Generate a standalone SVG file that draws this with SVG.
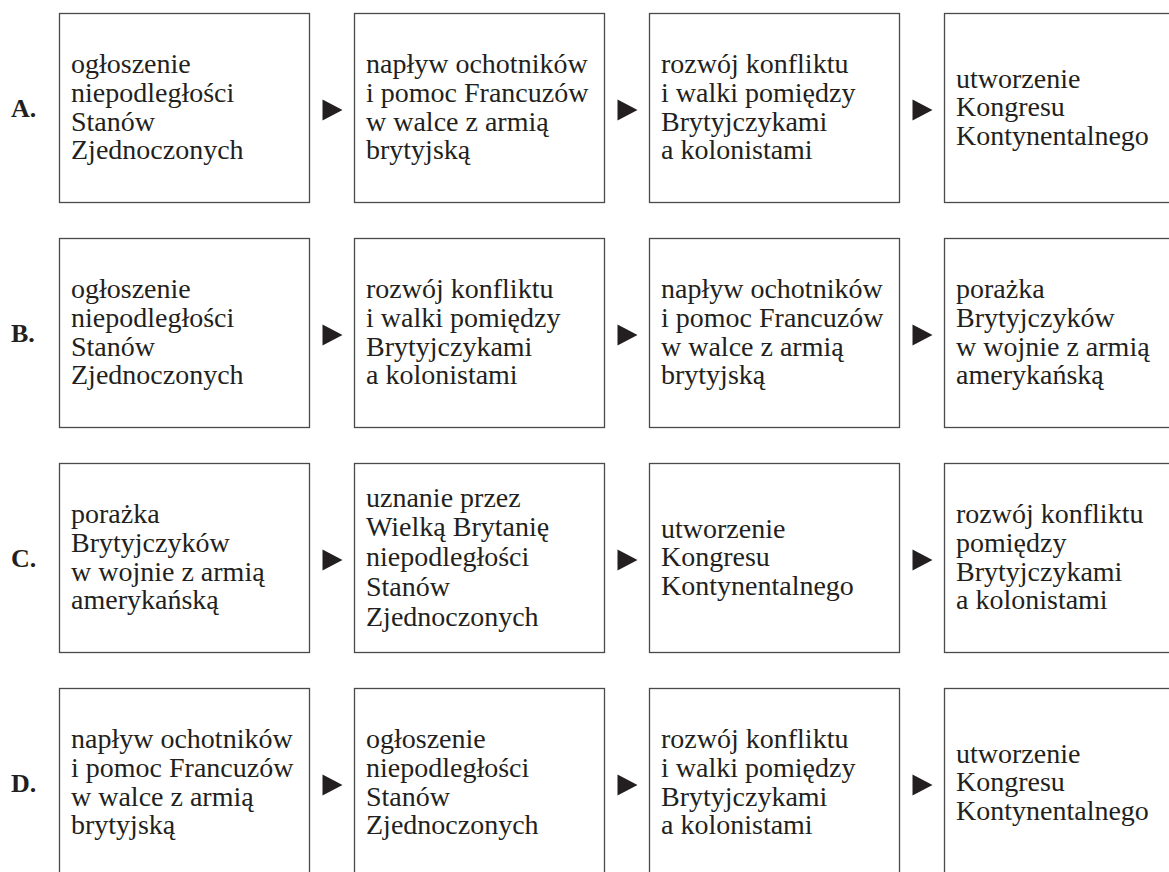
<svg xmlns="http://www.w3.org/2000/svg" xmlns:xlink="http://www.w3.org/1999/xlink" width="1169" height="872" viewBox="0 0 1169 872">
<style>
.box{fill:#fff;stroke:#4a4a4a;stroke-width:1.3}
.t{font-family:"Liberation Serif","Times New Roman",serif;font-size:28px;fill:#231f20}
.lab{font-family:"Liberation Serif","Times New Roman",serif;font-size:26px;font-weight:bold;fill:#231f20}
.arr{fill:#231f20}
</style>
<defs>
<path id="tri" d="M0,0 L20,10.5 L0,21 Z"/>
</defs>
<rect width="1169" height="872" fill="#fff"/>

<g id="labels">
<text class="lab" x="11" y="116.7">A.</text>
<text class="lab" x="11" y="341.7">B.</text>
<text class="lab" x="11" y="566.7">C.</text>
<text class="lab" x="11" y="791.7">D.</text>
</g>

<!-- Row A -->
<g id="A1"><rect class="box" x="59.5" y="13.5" width="250" height="189"/>
<text class="t" x="71" y="73.2"><tspan x="71">ogłoszenie</tspan><tspan x="71" dy="28.7">niepodległości</tspan><tspan x="71" dy="28.7">Stanów</tspan><tspan x="71" dy="28.7">Zjednoczonych</tspan></text></g>
<g id="A2"><rect class="box" x="354.5" y="13.5" width="250" height="189"/>
<text class="t" x="366" y="73.2"><tspan x="366">napływ ochotników</tspan><tspan x="366" dy="28.7">i pomoc Francuzów</tspan><tspan x="366" dy="28.7">w walce z armią</tspan><tspan x="366" dy="28.7">brytyjską</tspan></text></g>
<g id="A3"><rect class="box" x="649.5" y="13.5" width="250" height="189"/>
<text class="t" x="661" y="73.2"><tspan x="661">rozwój konfliktu</tspan><tspan x="661" dy="28.7">i walki pomiędzy</tspan><tspan x="661" dy="28.7">Brytyjczykami</tspan><tspan x="661" dy="28.7">a kolonistami</tspan></text></g>
<g id="A4"><rect class="box" x="944.5" y="13.5" width="250" height="189"/>
<text class="t" x="956" y="87.5"><tspan x="956">utworzenie</tspan><tspan x="956" dy="28.7">Kongresu</tspan><tspan x="956" dy="28.7">Kontynentalnego</tspan></text></g>

<!-- Row B -->
<g id="B1"><rect class="box" x="59.5" y="238.5" width="250" height="189"/>
<text class="t" x="71" y="298.2"><tspan x="71">ogłoszenie</tspan><tspan x="71" dy="28.7">niepodległości</tspan><tspan x="71" dy="28.7">Stanów</tspan><tspan x="71" dy="28.7">Zjednoczonych</tspan></text></g>
<g id="B2"><rect class="box" x="354.5" y="238.5" width="250" height="189"/>
<text class="t" x="366" y="298.2"><tspan x="366">rozwój konfliktu</tspan><tspan x="366" dy="28.7">i walki pomiędzy</tspan><tspan x="366" dy="28.7">Brytyjczykami</tspan><tspan x="366" dy="28.7">a kolonistami</tspan></text></g>
<g id="B3"><rect class="box" x="649.5" y="238.5" width="250" height="189"/>
<text class="t" x="661" y="298.2"><tspan x="661">napływ ochotników</tspan><tspan x="661" dy="28.7">i pomoc Francuzów</tspan><tspan x="661" dy="28.7">w walce z armią</tspan><tspan x="661" dy="28.7">brytyjską</tspan></text></g>
<g id="B4"><rect class="box" x="944.5" y="238.5" width="250" height="189"/>
<text class="t" x="956" y="298.2"><tspan x="956">porażka</tspan><tspan x="956" dy="28.7">Brytyjczyków</tspan><tspan x="956" dy="28.7">w wojnie z armią</tspan><tspan x="956" dy="28.7">amerykańską</tspan></text></g>

<!-- Row C -->
<g id="C1"><rect class="box" x="59.5" y="463.5" width="250" height="189"/>
<text class="t" x="71" y="523.2"><tspan x="71">porażka</tspan><tspan x="71" dy="28.7">Brytyjczyków</tspan><tspan x="71" dy="28.7">w wojnie z armią</tspan><tspan x="71" dy="28.7">amerykańską</tspan></text></g>
<g id="C2"><rect class="box" x="354.5" y="463.5" width="250" height="189"/>
<text class="t" x="366" y="506.6"><tspan x="366">uznanie przez</tspan><tspan x="366" dy="29.8">Wielką Brytanię</tspan><tspan x="366" dy="29.8">niepodległości</tspan><tspan x="366" dy="29.8">Stanów</tspan><tspan x="366" dy="29.8">Zjednoczonych</tspan></text></g>
<g id="C3"><rect class="box" x="649.5" y="463.5" width="250" height="189"/>
<text class="t" x="661" y="537.5"><tspan x="661">utworzenie</tspan><tspan x="661" dy="28.7">Kongresu</tspan><tspan x="661" dy="28.7">Kontynentalnego</tspan></text></g>
<g id="C4"><rect class="box" x="944.5" y="463.5" width="250" height="189"/>
<text class="t" x="956" y="523.2"><tspan x="956">rozwój konfliktu</tspan><tspan x="956" dy="28.7">pomiędzy</tspan><tspan x="956" dy="28.7">Brytyjczykami</tspan><tspan x="956" dy="28.7">a kolonistami</tspan></text></g>

<!-- Row D -->
<g id="D1"><rect class="box" x="59.5" y="688.5" width="250" height="189"/>
<text class="t" x="71" y="748.2"><tspan x="71">napływ ochotników</tspan><tspan x="71" dy="28.7">i pomoc Francuzów</tspan><tspan x="71" dy="28.7">w walce z armią</tspan><tspan x="71" dy="28.7">brytyjską</tspan></text></g>
<g id="D2"><rect class="box" x="354.5" y="688.5" width="250" height="189"/>
<text class="t" x="366" y="748.2"><tspan x="366">ogłoszenie</tspan><tspan x="366" dy="28.7">niepodległości</tspan><tspan x="366" dy="28.7">Stanów</tspan><tspan x="366" dy="28.7">Zjednoczonych</tspan></text></g>
<g id="D3"><rect class="box" x="649.5" y="688.5" width="250" height="189"/>
<text class="t" x="661" y="748.2"><tspan x="661">rozwój konfliktu</tspan><tspan x="661" dy="28.7">i walki pomiędzy</tspan><tspan x="661" dy="28.7">Brytyjczykami</tspan><tspan x="661" dy="28.7">a kolonistami</tspan></text></g>
<g id="D4"><rect class="box" x="944.5" y="688.5" width="250" height="189"/>
<text class="t" x="956" y="762.5"><tspan x="956">utworzenie</tspan><tspan x="956" dy="28.7">Kongresu</tspan><tspan x="956" dy="28.7">Kontynentalnego</tspan></text></g>

<g id="connectors" class="arr">
<use xlink:href="#tri" x="322.5" y="99.5"/>
<use xlink:href="#tri" x="617.5" y="99.5"/>
<use xlink:href="#tri" x="912.5" y="99.5"/>
<use xlink:href="#tri" x="322.5" y="324.5"/>
<use xlink:href="#tri" x="617.5" y="324.5"/>
<use xlink:href="#tri" x="912.5" y="324.5"/>
<use xlink:href="#tri" x="322.5" y="549.5"/>
<use xlink:href="#tri" x="617.5" y="549.5"/>
<use xlink:href="#tri" x="912.5" y="549.5"/>
<use xlink:href="#tri" x="322.5" y="774.5"/>
<use xlink:href="#tri" x="617.5" y="774.5"/>
<use xlink:href="#tri" x="912.5" y="774.5"/>
</g>
</svg>
